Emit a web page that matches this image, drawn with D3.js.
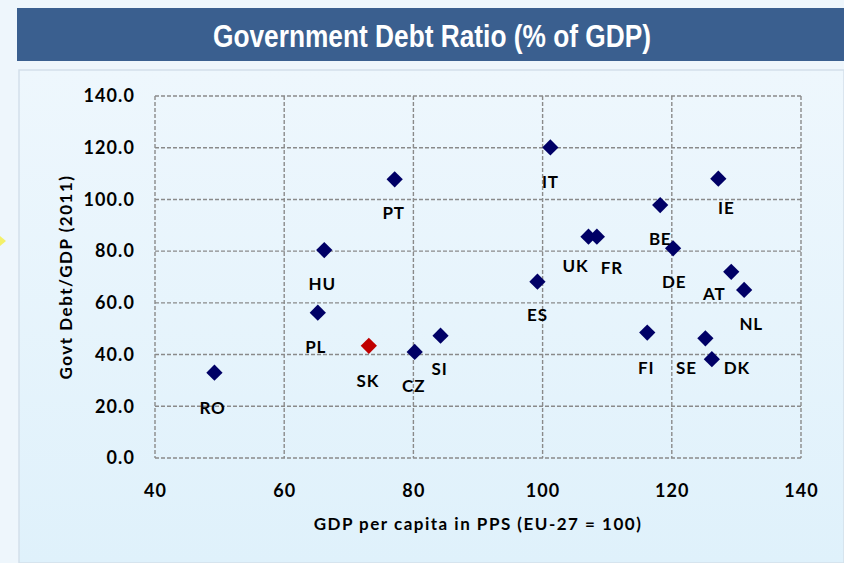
<!DOCTYPE html>
<html>
<head>
<meta charset="utf-8">
<script src="https://cdn.jsdelivr.net/npm/d3@7"></script>
<style>
  html, body { margin: 0; padding: 0; background: #eef6fc; }
  svg { display: block; }
</style>
</head>
<body>
<svg id="chart" width="844" height="563"></svg>
<script>
// ---- Data ----
const countries = ["RO","PL","HU","PT","SK","CZ","SI","IT","IE","BE","UK","FR","DE","ES","AT","NL","FI","SE","DK"];
const gdpPerCapita = [49.2, 65.2, 66.2, 77.1, 73.1, 80.2, 84.2, 101.2, 127.2, 118.2, 107.1, 108.4, 120.2, 99.2, 129.2, 131.2, 116.2, 125.2, 126.2];
const debtRatio    = [33.0, 56.2, 80.4, 107.8, 43.4, 41.0, 47.3, 120.1, 108.0, 97.8, 85.6, 85.6, 81.1, 68.2, 72.0, 65.0, 48.5, 46.3, 38.2];
const highlighted = ["SK"];
const xTicks = [40, 60, 80, 100, 120, 140];
const yTicks = [0, 20, 40, 60, 80, 100, 120, 140];
const titleText = "Government Debt Ratio (% of GDP)";
const xAxisTitle = "GDP per capita in PPS (EU-27 = 100)";
const yAxisTitle = "Govt Debt/GDP (2011)";

// label placement relative to the marker (layout only)
const labelOffset = {
  RO: [-2, 35], PL: [-2, 34], HU: [-2, 34], PT: [-1, 34], SK: [-1, 35], CZ: [-1, 34],
  SI: [-1, 33], IT: [0, 34], IE: [8, 29], BE: [0, 34], UK: [-13, 29], FR: [15, 31],
  DE: [1, 34], ES: [0, 33], AT: [-17, 22], NL: [7, 34], FI: [-1, 35], SE: [-19, 30], DK: [25, 9]
};

const svg = d3.select("#chart");
const W = 844, H = 563;
const M = { left: 155, right: 801, top: 96, bottom: 458 };

// background
const defs = svg.append("defs");
const grad = defs.append("linearGradient").attr("id", "panelGrad")
  .attr("x1", 0).attr("y1", 0).attr("x2", 0).attr("y2", 1);
grad.append("stop").attr("offset", "0%").attr("stop-color", "#eef7fd");
grad.append("stop").attr("offset", "100%").attr("stop-color", "#dff1fb");

svg.append("rect").attr("width", W).attr("height", H).attr("fill", "#eef6fc");
svg.append("rect").attr("x", 19).attr("y", 70).attr("width", W - 19).attr("height", H - 70)
  .attr("fill", "url(#panelGrad)").attr("stroke", "#d3dfea").attr("stroke-width", 1.5);

// left yellow pointer
svg.append("path").attr("d", "M0,236 L6,241 L0,246 Z").attr("fill", "#f3f06a");

// title banner
svg.append("rect").attr("x", 17).attr("y", 8).attr("width", W - 17).attr("height", 53).attr("fill", "#3a5f8f");
svg.append("text").attr("x", 432).attr("y", 47)
  .attr("text-anchor", "middle")
  .attr("font-family", "'Liberation Sans Narrow', 'Arial Narrow', 'Liberation Sans', sans-serif")
  .attr("font-weight", "bold")
  .attr("font-size", 31)
  .attr("textLength", 438)
  .attr("lengthAdjust", "spacingAndGlyphs")
  .attr("fill", "#ffffff")
  .text(titleText);

// scales
const x = d3.scaleLinear().domain([40, 140]).range([M.left, M.right]);
const y = d3.scaleLinear().domain([0, 140]).range([M.bottom, M.top]);

const font = "Lato, 'Open Sans', sans-serif";

// grid
const grid = svg.append("g");
grid.selectAll("line.h").data(yTicks).join("line")
  .attr("x1", M.left).attr("x2", M.right)
  .attr("y1", d => y(d)).attr("y2", d => y(d))
  .attr("stroke", "#8a8a8a").attr("stroke-width", 1.4).attr("stroke-dasharray", "4,2");
grid.selectAll("line.v").data(xTicks).join("line")
  .attr("y1", M.top).attr("y2", M.bottom)
  .attr("x1", d => x(d)).attr("x2", d => x(d))
  .attr("stroke", "#8a8a8a").attr("stroke-width", 1.4).attr("stroke-dasharray", "4,2");

// axes (text only)
const yAxis = svg.append("g").attr("transform", `translate(${M.left},0)`)
  .call(d3.axisLeft(y).tickValues(yTicks).tickFormat(d3.format(".1f")).tickSize(0).tickPadding(20));
yAxis.select(".domain").remove();
yAxis.selectAll("text").attr("font-family", font).attr("font-weight", "bold")
  .attr("font-size", 18).attr("letter-spacing", 1.1).attr("fill", "#000");

const xAxis = svg.append("g").attr("transform", `translate(0,${M.bottom})`)
  .call(d3.axisBottom(x).tickValues(xTicks).tickFormat(d3.format("d")).tickSize(0).tickPadding(26));
xAxis.select(".domain").remove();
xAxis.selectAll("text").attr("font-family", font).attr("font-weight", "bold")
  .attr("font-size", 18).attr("letter-spacing", 1.1).attr("fill", "#000");

// axis titles
svg.append("text").attr("x", 478).attr("y", 530)
  .attr("text-anchor", "middle").attr("font-family", font).attr("font-weight", "bold")
  .attr("font-size", 17).attr("letter-spacing", 1.5).attr("fill", "#000").text(xAxisTitle);
svg.append("text").attr("transform", `translate(72,277) rotate(-90)`)
  .attr("text-anchor", "middle").attr("font-family", font).attr("font-weight", "bold")
  .attr("font-size", 17).attr("letter-spacing", 1.5).attr("fill", "#000").text(yAxisTitle);

// points
const data = countries.map((c, i) => ({ c, gx: gdpPerCapita[i], dy: debtRatio[i] }));
const diamond = d3.symbol().type(d3.symbolSquare).size(132);
svg.append("g").selectAll("path").data(data).join("path")
  .attr("d", diamond)
  .attr("transform", d => `translate(${x(d.gx)},${y(d.dy)}) rotate(45)`)
  .attr("fill", d => highlighted.includes(d.c) ? "#c00000" : "#000066");

// labels
svg.append("g").selectAll("text").data(data).join("text")
  .attr("x", d => x(d.gx) + labelOffset[d.c][0])
  .attr("y", d => y(d.dy) + labelOffset[d.c][1])
  .attr("dy", "0.36em")
  .attr("text-anchor", "middle")
  .attr("font-family", font).attr("font-weight", "bold").attr("font-size", 17)
  .attr("letter-spacing", 0.8)
  .attr("fill", "#000").text(d => d.c);
</script>
</body>
</html>
